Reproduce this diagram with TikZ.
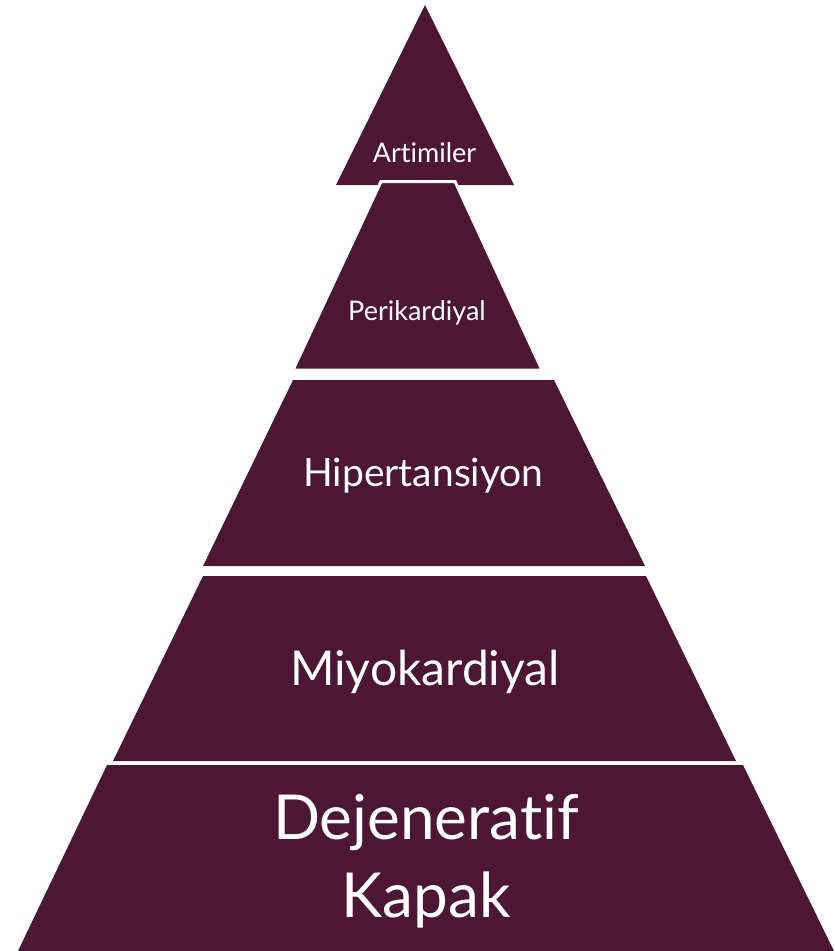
\documentclass[tikz,border=0pt]{standalone}
\usepackage{fontspec}
\setmainfont{Lato}[Ligatures={NoCommon,NoRare}]
\usepackage{xcolor}
\definecolor{Wine}{HTML}{4D1635}
\newcommand{\Tier}[6]{%
  \fill[Wine] (#3,#1) -- (#4,#1) -- (#6,#2) -- (#5,#2) -- cycle;%
}
\tikzset{tierlabel/.style={text=white,anchor=base,inner sep=0pt}}

\begin{document}
\begin{tikzpicture}[x=1pt,y=-1pt]
\useasboundingbox (0,0) rectangle (835,951);
% apex and the band below it
\fill[Wine] (425,5) -- (514,185) -- (336,185) -- cycle;
\filldraw[fill=Wine,draw=white,line width=3pt] (381,181.5) -- (455,181.5) -- (542,370) -- (293,370) -- cycle;
\Tier{380}{566}{293}{554}{203}{645}
\Tier{576}{761}{203}{646}{113}{736}
\Tier{765}{951}{107}{743}{18}{834}
\node[tierlabel,font=\fontsize{27}{30}\selectfont] (artimiler) at (424.5,162) {Artimiler};
\node[tierlabel,font=\fontsize{27}{30}\selectfont] (perikardiyal) at (417,320) {Perikardiyal};
\node[tierlabel,font=\fontsize{39}{46}\selectfont] (hipertansiyon) at (423.5,486) {Hipertansiyon};
\node[tierlabel,font=\fontsize{48}{56}\selectfont] (miyokardiyal) at (425,685) {Miyokardiyal};
\node[tierlabel,align=center,font=\fontsize{62}{78}\selectfont] (dejeneratif) at (426,917) {Dejeneratif\\Kapak};
\end{tikzpicture}
\end{document}
